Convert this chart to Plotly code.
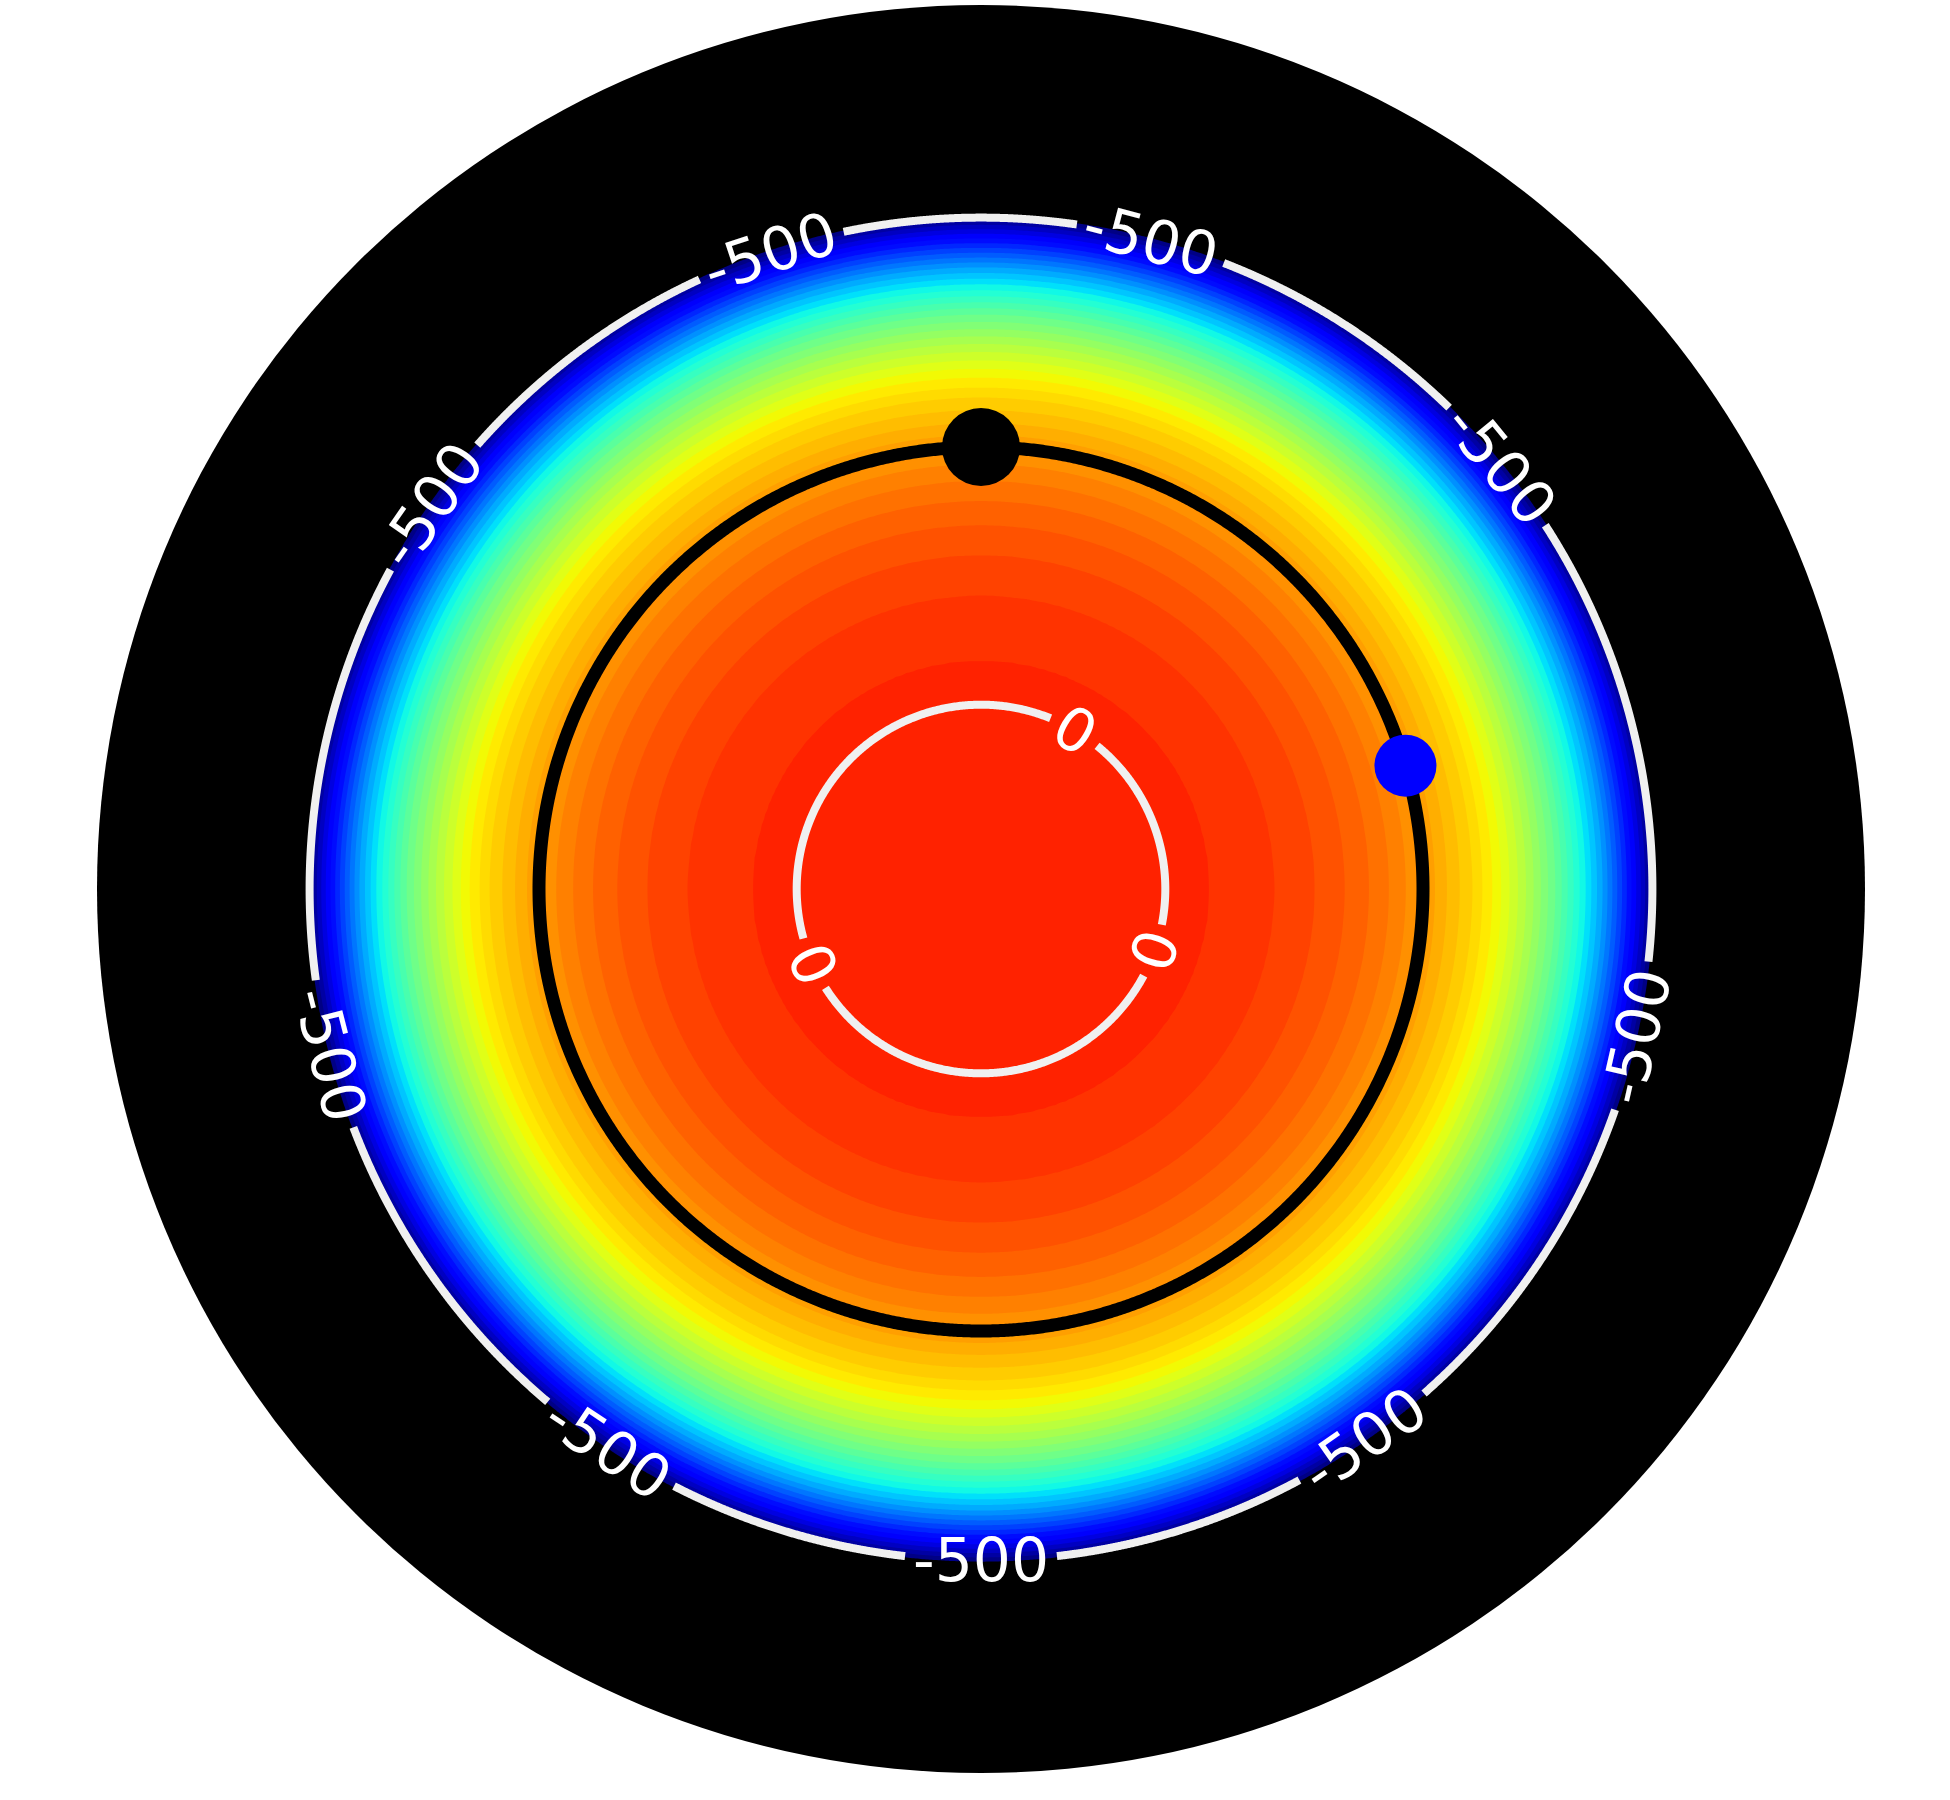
import numpy as np
import plotly.graph_objects as go

# ---------------- data ----------------
# radial potential profile (radius in orbit units, value of the field)
PROFILE_R = [0.0, 0.417, 0.517, 0.664, 0.755, 0.823, 0.878, 0.923, 0.961, 1.0,
             1.027, 1.054, 1.111, 1.163, 1.224, 1.249, 1.304, 1.367, 1.406,
             1.451, 1.485, 1.501, 1.519, 1.587, 2.268]
PROFILE_Z = [2.9, 0.0, -4.0, -16.5, -29.0, -41.5, -54.0, -66.5, -79.0, -91.5,
             -104.0, -116.5, -141.0, -170.0, -210.0, -228.0, -270.0, -328.0, -366.0,
             -417.0, -457.0, -477.0, -500.0, -597.0, -1500.0]

# filled contour levels
FILL_START = -504.0
FILL_END = -4.0
FILL_STEP = 12.5

# labelled contour lines
LINE_LEVELS = [0.0, -500.0]
LINE_LABELS = ["0", "-500"]
LABEL_ANGLES = [
    [59.4, -19.6, 204.0],
    [108.3, 75.3, 39.3, -12.7, -55.2, -90.0, -123.7, 194.3, 145.1],
]

# orbit and bodies
ORBIT_RADIUS = 1.0
BODY_ANGLES = [90.0, 16.2]
DOMAIN_RADIUS = 2.0

# colour normalisation (field value -> position on jet colormap)
COLOR_Z = [-500.0, -443.0, -328.0, -170.0, -91.0, 0.0, 3.0]
COLOR_P = [0.0, 0.12, 0.36, 0.65, 0.75, 0.87, 0.875]

# ---------------- page geometry ----------------
W, H = 1950, 1800
PX_PER_UNIT = 442.0
CX, CY = 981.0, 889.0
XR = [-CX / PX_PER_UNIT, (W - CX) / PX_PER_UNIT]
YR = [-(H - CY) / PX_PER_UNIT, CY / PX_PER_UNIT]


def jet(p):
    r = np.interp(p, [0, 0.35, 0.66, 0.89, 1], [0, 0, 1, 1, 0.5])
    g = np.interp(p, [0, 0.125, 0.375, 0.64, 0.91, 1], [0, 0, 1, 1, 0, 0])
    b = np.interp(p, [0, 0.11, 0.34, 0.65, 1], [0.5, 1, 1, 0, 0])
    return "rgb(%d,%d,%d)" % (round(r * 255), round(g * 255), round(b * 255))


# plotly maps band value v to colorscale position (v - start + step/2) / (nc*step)
nc = int(np.floor((FILL_END - FILL_START) / FILL_STEP)) + 1
span = nc * FILL_STEP
q0 = 0.5 / nc
colorscale = [[0.0, "rgba(0,0,0,0)"], [q0, "rgba(0,0,0,0)"]]
for q in np.linspace(q0 + 1e-4, 1.0, 160):
    v = q * span + FILL_START - 0.5 * FILL_STEP
    p = float(np.interp(v, COLOR_Z, COLOR_P))
    colorscale.append([float(q), jet(p)])

# field table built from the radial profile
grid = np.linspace(-1.6, 1.6, 401)
GX, GY = np.meshgrid(grid, grid)
Z = np.round(np.interp(np.hypot(GX, GY), PROFILE_R, PROFILE_Z), 2)

fig = go.Figure()

fig.add_trace(go.Contour(
    x=grid, y=grid, z=Z,
    autocontour=False,
    contours=dict(start=FILL_START, end=FILL_END, size=FILL_STEP,
                  coloring="fill", showlines=False),
    line=dict(width=0),
    colorscale=colorscale,
    showscale=False,
    hoverinfo="skip",
))

# orbit
th = np.linspace(0, 2 * np.pi, 1441)
fig.add_trace(go.Scatter(
    x=ORBIT_RADIUS * np.cos(th), y=ORBIT_RADIUS * np.sin(th),
    mode="lines", line=dict(color="black", width=13, simplify=False),
    hoverinfo="skip", showlegend=False,
))

# labelled contour lines (white) with gaps for labels
rev_z = PROFILE_Z[::-1]
rev_r = PROFILE_R[::-1]
annotations = []
FONT_PX = 60
for level, label, angles in zip(LINE_LEVELS, LINE_LABELS, LABEL_ANGLES):
    R = float(np.interp(level, rev_z, rev_r))
    text_w = FONT_PX * (0.636 * sum(c.isdigit() for c in label) + 0.361 * label.count("-"))
    half_gap = np.degrees((text_w / 2 + 8) / PX_PER_UNIT / R)
    a = sorted([x % 360 for x in angles])
    xs, ys = [], []
    for i in range(len(a)):
        s = a[i] + half_gap
        e = (a[i + 1] if i + 1 < len(a) else a[0] + 360) - half_gap
        t = np.radians(np.linspace(s, e, 300))
        xs += list(R * np.cos(t)) + [None]
        ys += list(R * np.sin(t)) + [None]
    fig.add_trace(go.Scatter(
        x=xs, y=ys, mode="lines",
        line=dict(color="#f0f0f0", width=8, simplify=False),
        hoverinfo="skip", showlegend=False,
    ))
    for ang in angles:
        ta = ((90 - ang) + 90) % 180 - 90
        annotations.append(dict(
            x=R * np.cos(np.radians(ang)), y=R * np.sin(np.radians(ang)),
            xref="x", yref="y", text=label, showarrow=False,
            textangle=ta, xanchor="center", yanchor="middle",
            font=dict(family="DejaVu Sans", size=FONT_PX, color="white"),
        ))

# bodies on the orbit
bx = [ORBIT_RADIUS * np.cos(np.radians(a)) for a in BODY_ANGLES]
by = [ORBIT_RADIUS * np.sin(np.radians(a)) for a in BODY_ANGLES]
fig.add_trace(go.Scatter(
    x=bx, y=by, mode="markers",
    marker=dict(color=["black", "#0000ff"], size=[78, 62], opacity=1,
                line=dict(width=0)),
    hoverinfo="skip", showlegend=False,
))

fig.update_layout(
    width=W, height=H,
    margin=dict(l=0, r=0, t=0, b=0),
    paper_bgcolor="white", plot_bgcolor="white",
    xaxis=dict(range=XR, visible=False, fixedrange=True),
    yaxis=dict(range=YR, visible=False, fixedrange=True),
    showlegend=False,
    shapes=[dict(type="circle", xref="x", yref="y",
                 x0=-DOMAIN_RADIUS, y0=-DOMAIN_RADIUS,
                 x1=DOMAIN_RADIUS, y1=DOMAIN_RADIUS,
                 fillcolor="black", line=dict(width=0), layer="below")],
    annotations=annotations,
)

fig.write_html("out.html", config={"displayModeBar": False},
               post_script="document.body.style.margin='0px';")
